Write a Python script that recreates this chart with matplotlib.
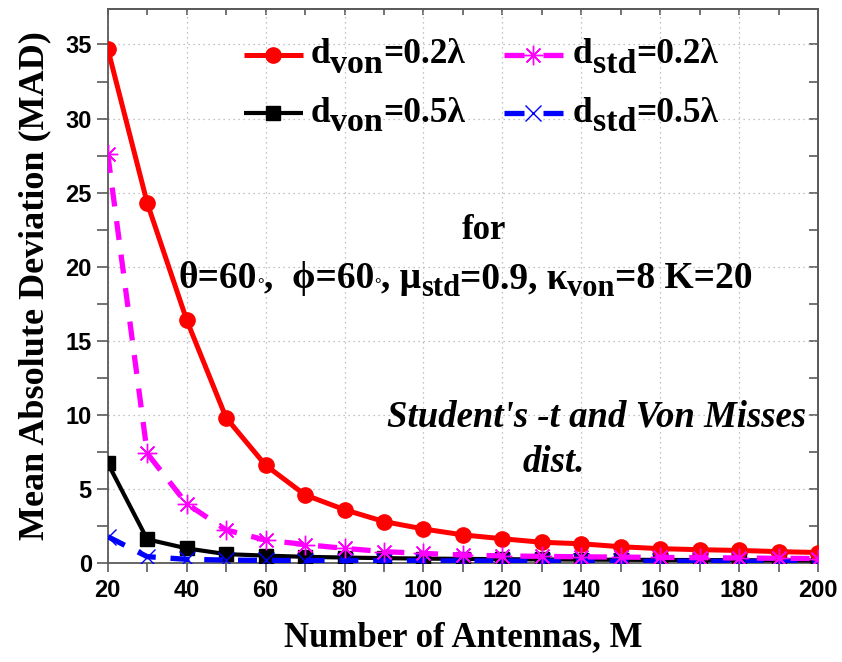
import matplotlib
matplotlib.use("Agg")
import matplotlib.pyplot as plt

# Number of antennas
antennas = [20, 30, 40, 50, 60, 70, 80, 90, 100, 110, 120, 130, 140, 150, 160, 170, 180, 190, 200]

# Mean absolute deviation for each configuration
mad_von_02 = [34.7, 24.3, 16.4, 9.8, 6.6, 4.6, 3.6, 2.8, 2.3, 1.9, 1.64, 1.4, 1.3, 1.1, 0.97, 0.9, 0.85, 0.77, 0.71]
mad_std_02 = [27.6, 7.4, 4.0, 2.23, 1.55, 1.25, 0.99, 0.77, 0.65, 0.54, 0.48, 0.45, 0.42, 0.4, 0.38, 0.36, 0.34, 0.32, 0.3]
mad_von_05 = [6.74, 1.6, 0.99, 0.6, 0.5, 0.42, 0.37, 0.33, 0.3, 0.28, 0.26, 0.24, 0.23, 0.22, 0.21, 0.2, 0.19, 0.18, 0.17]
mad_std_05 = [1.78, 0.43, 0.25, 0.2, 0.18, 0.17, 0.16, 0.15, 0.15, 0.14, 0.14, 0.13, 0.13, 0.12, 0.12, 0.12, 0.11, 0.11, 0.1]

x_ticks = [20, 40, 60, 80, 100, 120, 140, 160, 180, 200]
y_ticks = [0, 5, 10, 15, 20, 25, 30, 35]
x_minor = [30, 50, 70, 90, 110, 130, 150, 170, 190]
y_minor = [2.5, 7.5, 12.5, 17.5, 22.5, 27.5, 32.5]

SERIF = ["Liberation Serif", "DejaVu Serif"]
SANS = ["Liberation Sans", "DejaVu Sans"]
SPINE = "#5a5a5a"

fig = plt.figure(figsize=(8.42, 6.62), dpi=100)
ax = fig.add_axes([0.128, 0.1495, 0.8435, 0.837])

styles = {
    "von02": dict(color="#ff0000", lw=3.6, marker="o", markersize=11,
                  markerfacecolor="#ff0000", markeredgecolor="#ff0000"),
    "std02": dict(color="#ff00ff", lw=3.8, marker=(8, 2, 0), markersize=14,
                  markeredgewidth=1.0),
    "von05": dict(color="black", lw=3.0, marker="s", markersize=9.5,
                  markerfacecolor="black"),
    "std05": dict(color="#0000ff", lw=3.8, marker="x", markersize=11,
                  markeredgewidth=1.0),
}
dashed = (0, (3.6, 2.8))

ax.plot(antennas, mad_von_02, zorder=4, **styles["von02"])
ax.plot(antennas, mad_std_02, linestyle=dashed, zorder=5, **styles["std02"])
ax.plot(antennas, mad_von_05, zorder=3, **styles["von05"])
ax.plot(antennas, mad_std_05, linestyle=dashed, zorder=3, **styles["std05"])

ax.set_xlim(20, 200)
ax.set_ylim(0, 37.4)
ax.set_xticks(x_ticks)
ax.set_yticks(y_ticks)
ax.set_xticks(x_minor, minor=True)
ax.set_yticks(y_minor, minor=True)

ax.grid(True, which="major", linestyle=(0, (1, 3)), color="#b0b0b0", lw=0.9)
ax.set_axisbelow(True)

for s in ax.spines.values():
    s.set_color(SPINE)
    s.set_linewidth(1.3)

ax.tick_params(which="both", direction="out", top=False, right=False,
               color=SPINE, width=1.2)
ax.tick_params(axis="y", which="both", length=8)
ax.tick_params(axis="x", which="both", length=6.5, pad=5)
for lab in ax.get_xticklabels() + ax.get_yticklabels():
    lab.set_fontfamily(SANS)
    lab.set_fontweight("bold")
    lab.set_fontsize(17)

# inward ticks along the top and right frame
sec_x = ax.secondary_xaxis("top")
sec_x.set_xticks(x_ticks)
sec_x.set_xticks(x_minor, minor=True)
sec_x.tick_params(which="both", direction="in", length=4.5, color=SPINE, width=1.2,
                  labeltop=False)
sec_y = ax.secondary_yaxis("right")
sec_y.set_yticks(y_ticks)
sec_y.set_yticks(y_minor, minor=True)
sec_y.tick_params(which="both", direction="in", length=6.5, color=SPINE, width=1.2,
                  labelright=False)
for sa in (sec_x, sec_y):
    for s in sa.spines.values():
        s.set_color(SPINE)
        s.set_linewidth(1.3)

ax.set_xlabel("Number of Antennas, M", fontfamily=SERIF, fontweight="bold",
              fontsize=25, labelpad=14)
ax.set_ylabel("Mean Absolute Deviation (MAD)", fontfamily=SERIF, fontweight="bold",
              fontsize=26, labelpad=10)


def rich_text(x, y, parts, style="normal"):
    """Draw a run of text pieces (text, size, vertical shift in points)
    one after the other, starting at axes position (x, y)."""
    first_txt, first_size, _ = parts[0]
    base = ax.text(x, y, first_txt, transform=ax.transAxes, ha="left", va="baseline",
                   fontfamily=SERIF, fontweight="bold", fontstyle=style,
                   fontsize=first_size)
    prev = base
    for txt, size, dy in parts[1:]:
        prev = ax.annotate(txt, xy=(1, 0), xycoords=(prev, base), xytext=(0, dy),
                           textcoords="offset points", ha="left", va="bottom",
                           fontfamily=SERIF, fontweight="bold", fontstyle=style,
                           fontsize=size, annotation_clip=False)
    return base


# legend: sample lines and labels
legend_rows = [
    # (handle x0, handle x1, handle y, text x, text baseline y, style key, dashed?, label)
    (0.1915, 0.2746, 0.917, 0.2859, 0.902, "von02", False, ("d", "von", "=0.2λ")),
    (0.5577, 0.6408, 0.917, 0.6549, 0.902, "std02", True, ("d", "std", "=0.2λ")),
    (0.1915, 0.2746, 0.812, 0.2859, 0.7966, "von05", False, ("d", "von", "=0.5λ")),
    (0.5577, 0.6408, 0.812, 0.6549, 0.7966, "std05", True, ("d", "std", "=0.5λ")),
]
for x0, x1, yh, xt, yt, key, is_dashed, (main, sub, tail) in legend_rows:
    st = dict(styles[key])
    line_kw = dict(color=st["color"], lw=st["lw"], transform=ax.transAxes,
                   clip_on=False, solid_capstyle="butt", zorder=6)
    if is_dashed:
        seg = 0.34 * (x1 - x0)
        ax.plot([x0, x0 + seg], [yh, yh], **line_kw)
        ax.plot([x1 - seg, x1], [yh, yh], **line_kw)
    else:
        ax.plot([x0, x1], [yh, yh], **line_kw)
    mk = {k: v for k, v in st.items() if k not in ("lw",)}
    mk["linestyle"] = "none"
    ax.plot([(x0 + x1) / 2], [yh], transform=ax.transAxes, clip_on=False, zorder=7, **mk)
    rich_text(xt, yt, [(main, 25.5, 0), (sub, 24.5, -6), (tail, 25.5, 0)])

ax.text(0.5296, 0.5848, "for", transform=ax.transAxes, ha="center", va="baseline",
        fontfamily=SERIF, fontweight="bold", fontsize=25)
rich_text(0.100, 0.4959, [
    ("θ=60", 27, 0), ("°", 12, 2), (",  ϕ=60", 27, 0), ("°", 12, 2),
    (", μ", 27, 0), ("std", 22, -5), ("=0.9, κ", 27, 0), ("von", 22, -5),
    ("=8 K=20", 27, 0),
])

rich_text(0.393, 0.246, [("Student's -t and Von Misses", 26.5, 0)], style="italic")
rich_text(0.5845, 0.1648, [("dist.", 26.5, 0)], style="italic")

fig.savefig("out.png", dpi=100)
